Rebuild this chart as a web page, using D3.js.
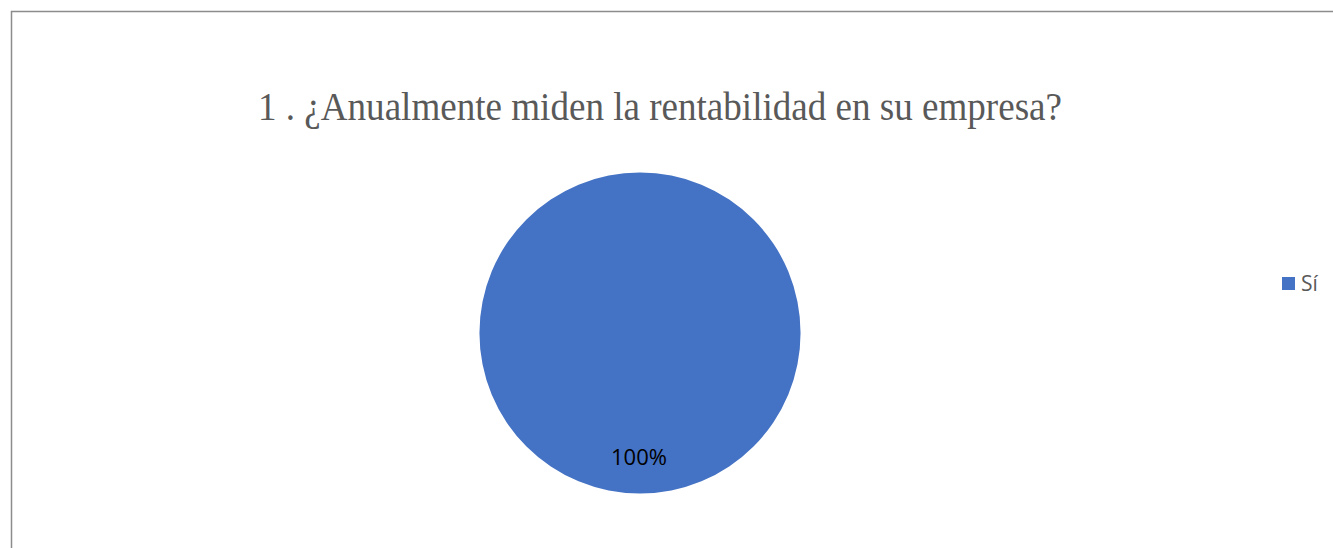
<!DOCTYPE html>
<html>
<head>
<meta charset="utf-8">
<script src="https://cdn.jsdelivr.net/npm/d3@7"></script>
<style>
  body { margin: 0; background: #fff; }
</style>
</head>
<body>
<div id="chart"></div>
<script>
// Chart data
const categories = ["Sí"];
const values = [100];
const title = "1 . ¿Anualmente miden la rentabilidad en su empresa?";

const width = 1333, height = 548;

const svg = d3.select("#chart")
  .append("svg")
  .attr("width", width)
  .attr("height", height);

// Chart border (runs off the right and bottom edges)
svg.append("rect")
  .attr("x", 11.5)
  .attr("y", 11.5)
  .attr("width", width + 10)
  .attr("height", height + 10)
  .attr("fill", "#fff")
  .attr("stroke", "#8c8c8c")
  .attr("stroke-width", 1.5);

// Title
svg.append("text")
  .attr("x", 258)
  .attr("y", 120)
  .attr("textLength", 804)
  .attr("lengthAdjust", "spacingAndGlyphs")
  .attr("font-family", "Liberation Serif, Times New Roman, serif")
  .attr("font-size", 40)
  .attr("fill", "#595959")
  .text(title);

const color = d3.scaleOrdinal().domain(categories).range(["#4472C4"]);

const cx = 640, cy = 333, r = 160.5;
const pie = d3.pie().sort(null)(values);
const arc = d3.arc().innerRadius(0).outerRadius(r);

const g = svg.append("g").attr("transform", `translate(${cx},${cy})`);

g.selectAll("path")
  .data(pie)
  .enter()
  .append("path")
  .attr("d", arc)
  .attr("fill", (d, i) => color(categories[i]));

// Data label
const total = d3.sum(values);
g.selectAll(".label")
  .data(pie)
  .enter()
  .append("text")
  .attr("class", "label")
  .attr("x", -1)
  .attr("y", 132)
  .attr("text-anchor", "middle")
  .attr("font-family", "Open Sans, Liberation Sans, sans-serif")
  .attr("font-size", 22)
  .attr("fill", "#000")
  .text((d) => Math.round((d.value / total) * 100) + "%");

// Legend
const legend = svg.append("g").attr("transform", "translate(1282,277)");
legend.selectAll("rect")
  .data(categories)
  .enter()
  .append("rect")
  .attr("width", 13)
  .attr("height", 13)
  .attr("fill", (d) => color(d));
legend.selectAll("text")
  .data(categories)
  .enter()
  .append("text")
  .attr("x", 19)
  .attr("y", 14)
  .attr("font-family", "Open Sans, Liberation Sans, sans-serif")
  .attr("font-size", 21)
  .attr("fill", "#595959")
  .text((d) => d);
</script>
</body>
</html>
